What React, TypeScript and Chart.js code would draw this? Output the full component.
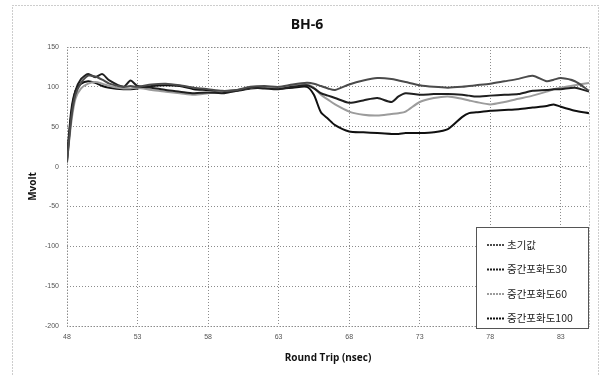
import React, { useEffect, useRef } from 'react';
import { Chart, registerables } from 'chart.js';

Chart.register(...registerables);

// Round trip (nsec) sample positions
const xValues = [48, 48.3, 48.6, 49, 49.5, 50, 50.5, 51, 52, 52.5, 53, 54, 55, 56, 57, 58, 59, 60, 61, 62, 63, 64, 65, 65.5, 66, 66.5, 67, 68, 69, 70, 71, 71.5, 72, 73, 74, 75, 76, 76.5, 77, 78, 79, 80, 81, 82, 82.5, 83, 84, 85];

// Mvolt values
const initialValues = [5, 60, 90, 105, 114, 113, 109, 104, 100, 101, 100, 103, 104, 102, 99, 97, 95, 96, 100, 101, 100, 103, 105, 104, 101, 98, 96, 103, 108, 111, 110, 108, 106, 102, 100, 99, 100, 101, 102, 104, 107, 110, 114, 107, 109, 111, 107, 95];
const sat30Values = [8, 65, 95, 110, 116, 112, 116, 108, 100, 108, 101, 99, 96, 94, 92, 93, 92, 95, 99, 98, 97, 100, 102, 98, 92, 89, 86, 80, 83, 86, 81, 88, 92, 90, 91, 91, 90, 89, 88, 89, 90, 91, 95, 96, 97, 97, 99, 94];
const sat60Values = [6, 55, 85, 98, 104, 106, 104, 101, 98, 98, 99, 96, 94, 92, 90, 92, 94, 96, 99, 100, 99, 102, 103, 99, 90, 84, 78, 69, 65, 64, 66, 67, 69, 81, 86, 88, 85, 83, 81, 78, 81, 85, 89, 94, 97, 99, 102, 105];
const sat100Values = [10, 70, 95, 104, 107, 105, 101, 99, 97, 97, 98, 101, 102, 101, 97, 96, 94, 95, 98, 99, 98, 99, 100, 90, 68, 60, 52, 44, 43, 42, 41, 41, 42, 42, 43, 47, 62, 67, 68, 70, 71, 72, 74, 76, 78, 75, 70, 67];

const seriesNames = ['초기값', '중간포화도30', '중간포화도60', '중간포화도100'];
const seriesColors = ['#4b4b4b', '#1f1f1f', '#9c9c9c', '#101010'];

const xTicks = [48, 53, 58, 63, 68, 73, 78, 83];
const yMin = -200;
const yMax = 150;
const yStep = 50;
const xMin = 48;
const xMax = 85;

const titleText = 'BH-6';
const xTitle = 'Round Trip (nsec)';
const yTitle = 'Mvolt';

export default function App() {
  const canvasRef = useRef<HTMLCanvasElement | null>(null);

  useEffect(() => {
    const canvas = canvasRef.current;
    if (!canvas) return;

    const allSeries = [initialValues, sat30Values, sat60Values, sat100Values];

    const frame = {
      id: 'frame',
      beforeDraw(chart: any) {
        const { ctx, width, height } = chart;
        ctx.save();
        ctx.fillStyle = '#ffffff';
        ctx.fillRect(0, 0, width, height);
        ctx.strokeStyle = '#9a9a9a';
        ctx.lineWidth = 1;
        ctx.setLineDash([1, 2]);
        ctx.strokeRect(12.5, 5.5, 586, 380);
        ctx.restore();
      },
      beforeDatasetsDraw(chart: any) {
        const { ctx, chartArea } = chart;
        ctx.save();
        ctx.strokeStyle = '#8a8a8a';
        ctx.lineWidth = 1;
        ctx.setLineDash([1, 2]);
        ctx.strokeRect(Math.round(chartArea.left) + 0.5, Math.round(chartArea.top) + 0.5,
          Math.round(chartArea.right - chartArea.left), Math.round(chartArea.bottom - chartArea.top));
        ctx.restore();
      },
    };

    const legendBox = {
      id: 'legendBox',
      afterDraw(chart: any) {
        const { ctx } = chart;
        const bx = 476.5, by = 227.5, bw = 112, bh = 101;
        ctx.save();
        ctx.fillStyle = '#ffffff';
        ctx.fillRect(bx, by, bw, bh);
        ctx.strokeStyle = '#555555';
        ctx.lineWidth = 1;
        ctx.setLineDash([]);
        ctx.strokeRect(bx, by, bw, bh);
        ctx.font = '10.5px "Noto Sans CJK KR", "Noto Sans", sans-serif';
        ctx.textBaseline = 'middle';
        ctx.textAlign = 'left';
        chart.data.datasets.forEach((ds: any, i: number) => {
          const y = 245 + i * 24.5;
          ctx.strokeStyle = ds.borderColor;
          ctx.lineWidth = 2;
          ctx.setLineDash([2, 1]);
          ctx.beginPath();
          ctx.moveTo(487, y);
          ctx.lineTo(505, y);
          ctx.stroke();
          ctx.fillStyle = '#222222';
          ctx.fillText(ds.label, 507, y);
        });
        ctx.restore();
      },
    };

    const chart = new Chart(canvas, {
      type: 'line',
      data: {
        datasets: allSeries.map((vals, i) => ({
          label: seriesNames[i],
          data: xValues.map((x, j) => ({ x, y: vals[j] })),
          borderColor: seriesColors[i],
          backgroundColor: seriesColors[i],
          borderWidth: 2,
          pointRadius: 0,
          tension: 0.25,
          fill: false,
        })),
      },
      options: {
        animation: false,
        responsive: false,
        devicePixelRatio: 1,
        layout: { padding: { left: 25, right: 13, top: 0, bottom: 0 } },
        plugins: {
          legend: { display: false },
          tooltip: { enabled: false },
          title: {
            display: true,
            text: titleText,
            color: '#111111',
            font: { family: '"Open Sans", "DejaVu Sans", sans-serif', size: 14, weight: 'bold' },
            padding: { top: 16.6, bottom: 13.6 },
          },
        },
        scales: {
          x: {
            type: 'linear',
            min: xMin,
            max: xMax,
            afterBuildTicks: (scale: any) => {
              scale.ticks = xTicks.map((v) => ({ value: v }));
            },
            afterFit: (scale: any) => {
              scale.height = 50;
            },
            ticks: {
              autoSkip: false,
              maxRotation: 0,
              padding: 7,
              color: '#555555',
              font: { family: '"Liberation Sans", sans-serif', size: 7 },
              callback: (v: any) => String(v),
            },
            grid: {
              color: '#8c8c8c',
              lineWidth: 1,
              drawTicks: false,
            },
            border: { display: false, dash: [1, 2] },
            title: {
              display: true,
              text: xTitle,
              color: '#111111',
              font: { family: '"Open Sans", "DejaVu Sans", sans-serif', size: 10, weight: 'bold' },
              padding: { top: 0, bottom: 12 },
            },
          },
          y: {
            type: 'linear',
            min: yMin,
            max: yMax,
            afterFit: (scale: any) => {
              scale.width = 42;
            },
            ticks: {
              stepSize: yStep,
              padding: 8,
              color: '#555555',
              font: { family: '"Liberation Sans", sans-serif', size: 7 },
            },
            grid: {
              color: '#8c8c8c',
              lineWidth: 1,
              drawTicks: false,
            },
            border: { display: false, dash: [1, 2] },
            title: {
              display: true,
              text: yTitle,
              color: '#111111',
              font: { family: '"Open Sans", "DejaVu Sans", sans-serif', size: 10, weight: 'bold' },
              padding: { top: 2, bottom: 0 },
            },
          },
        },
      },
      plugins: [frame, legendBox],
    } as any);

    return () => chart.destroy();
  }, []);

  return (
    <div style={{ position: 'fixed', left: 0, top: 0, width: 602, height: 376, background: '#fff' }}>
      <canvas ref={canvasRef} width={602} height={376} style={{ width: 602, height: 376, display: 'block' }} />
    </div>
  );
}
